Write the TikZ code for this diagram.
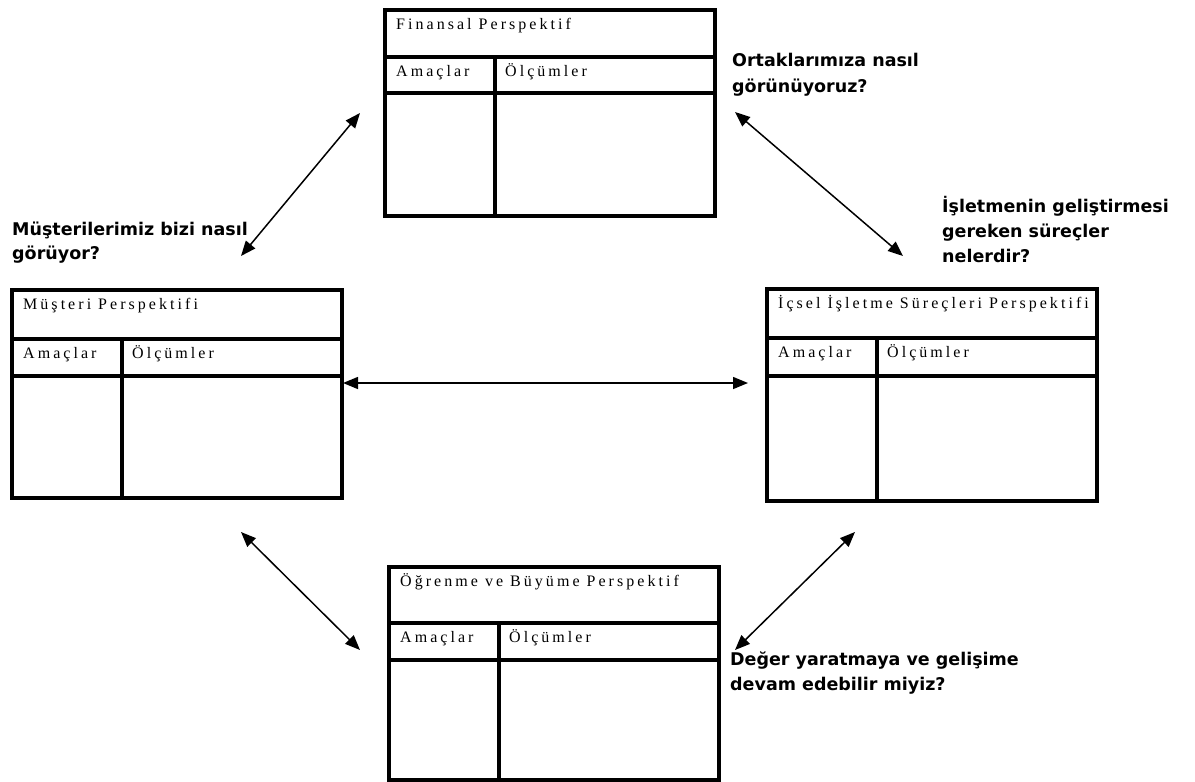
\documentclass[tikz,border=0pt]{standalone}
\usepackage{fontspec}
\setmainfont{Liberation Serif}
\newfontfamily\qfont{DejaVu Sans}
\newfontfamily\bxfont{Liberation Serif}[LetterSpace=19]
\usetikzlibrary{arrows.meta}
\tikzset{
  boxline/.style={line width=3.5pt, line join=miter},
  boxtext/.style={anchor=base west, inner sep=0pt, font=\bxfont\fontsize{16}{18}\selectfont},
  qtext/.style={anchor=base west, inner sep=0pt, font=\qfont\bfseries\fontsize{17.5}{20}\selectfont},
  link/.style={line width=1.5pt, {Triangle[length=15pt,width=12pt]}-{Triangle[length=15pt,width=12pt]}}
}
% #1 name, #2 L, #3 T, #4 R, #5 H, #6 S, #7 B, #8 D, #9 title
\newcommand{\bscbox}[9]{%
  \draw[boxline] (#2,#3) rectangle (#4,#7);
  \draw[boxline] (#2,#5) -- (#4,#5);
  \draw[boxline] (#2,#6) -- (#4,#6);
  \draw[boxline] (#8,#5) -- (#8,#7);
  \node[boxtext] (#1-title) at (#2+11,#3+19) {#9};
  \node[boxtext] (#1-am) at (#2+11,#5+19) {Amaçlar};
  \node[boxtext] (#1-ol) at (#8+10,#5+19) {Ölçümler};
}
\begin{document}
\begin{tikzpicture}[x=1pt,y=-1pt]
\useasboundingbox[fill=white] (0,0) rectangle (1195,782);
\bscbox{fin}{385}{10}{715}{57}{93}{216}{495}{Finansal Perspektif}
\bscbox{mus}{12}{290}{342}{339}{376}{498}{122}{Müşteri Perspektifi}
\bscbox{ics}{767}{289}{1097}{338}{376}{501}{877}{İçsel İşletme Süreçleri Perspektifi}
\bscbox{ogr}{389}{567}{719}{623}{660}{780}{499}{Öğrenme ve Büyüme Perspektif}

\node[qtext] (q1a) at (732,66) {Ortaklarımıza nasıl};
\node[qtext] (q1b) at (732,92) {görünüyoruz?};
\node[qtext] (q2a) at (12,235) {Müşterilerimiz bizi nasıl};
\node[qtext] (q2b) at (12,259) {görüyor?};
\node[qtext] (q3a) at (942,212) {İşletmenin geliştirmesi};
\node[qtext] (q3b) at (942,237) {gereken süreçler};
\node[qtext] (q3c) at (942,262) {nelerdir?};
\node[qtext] (q4a) at (730,665) {Değer yaratmaya ve gelişime};
\node[qtext] (q4b) at (730,690) {devam edebilir miyiz?};

\coordinate (a1s) at (241,256); \coordinate (a1e) at (360,113);
\coordinate (a2s) at (735,112); \coordinate (a2e) at (903,256);
\coordinate (a3s) at (343,383); \coordinate (a3e) at (748,383);
\coordinate (a4s) at (241,532); \coordinate (a4e) at (360,650);
\coordinate (a5s) at (855,532); \coordinate (a5e) at (735,650);
\draw[link] (a1s) -- (a1e);
\draw[link] (a2s) -- (a2e);
\draw[link] (a3s) -- (a3e);
\draw[link] (a4s) -- (a4e);
\draw[link] (a5s) -- (a5e);
\end{tikzpicture}
\end{document}
